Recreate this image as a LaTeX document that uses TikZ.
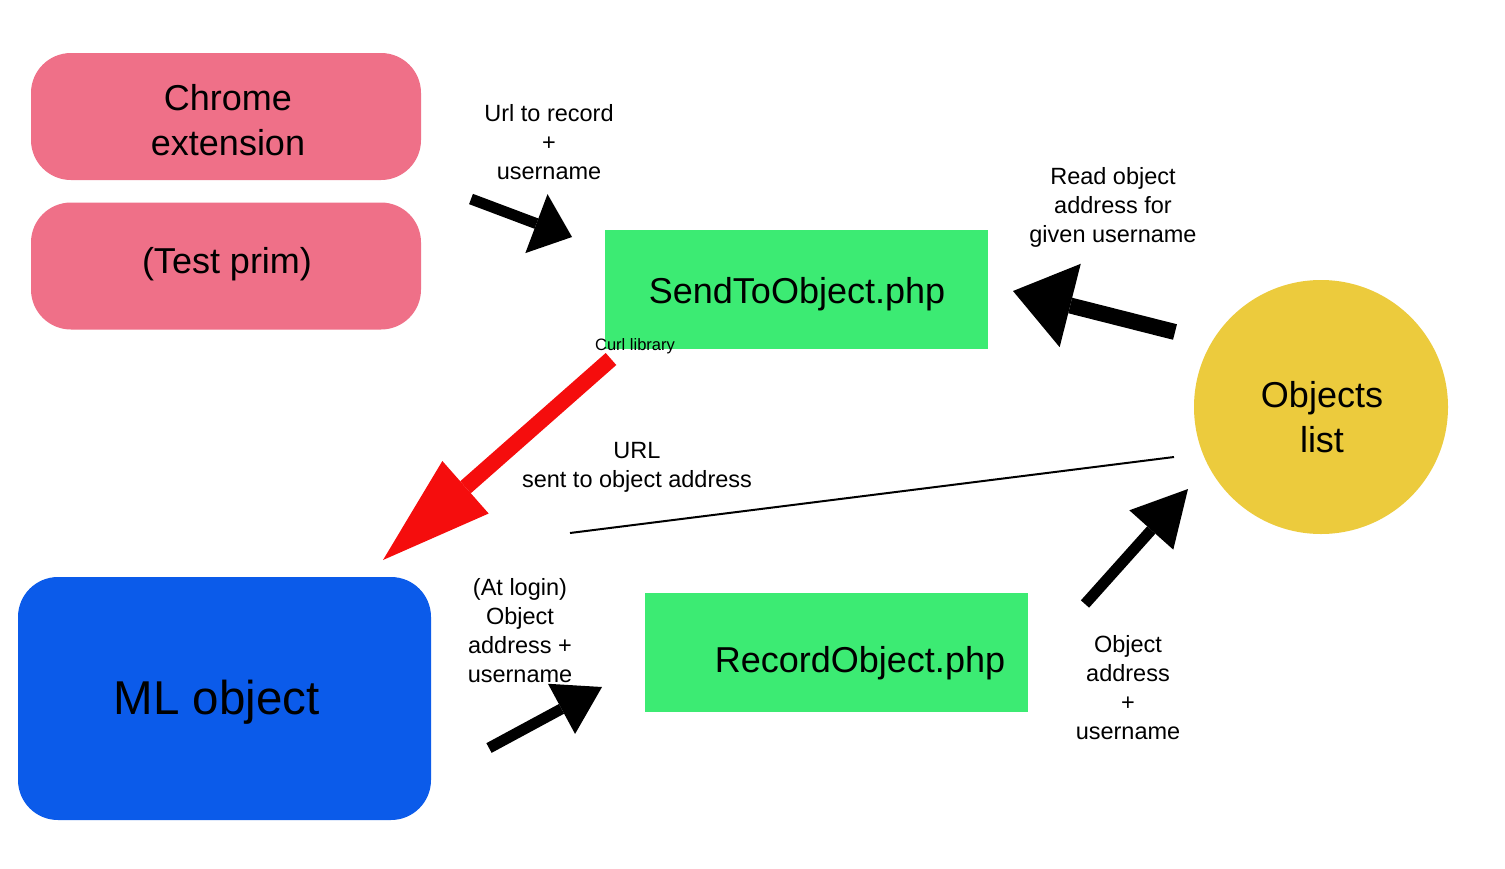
\documentclass[tikz,border=0pt]{standalone}
\usepackage{fontspec}
\setmainfont{Liberation Sans}
\usetikzlibrary{arrows.meta}
\definecolor{pinkfill}{HTML}{EF7088}
\definecolor{greenfill}{HTML}{3CEB73}
\definecolor{bluefill}{HTML}{0B5BEA}
\definecolor{yellowfill}{HTML}{ECCB3D}
\definecolor{redarrow}{HTML}{F50D0D}
\begin{document}
\begin{tikzpicture}[x=1pt,y=-1pt,
  pinkbox/.style={fill=pinkfill,rounded corners=40pt,inner sep=0pt,minimum width=390pt,minimum height=127pt},
  greenbox/.style={fill=greenfill,inner sep=0pt,minimum width=383pt,minimum height=119pt},
  bigtext/.style={font=\fontsize{36}{45}\selectfont,align=center,inner sep=0pt},
  lab/.style={font=\fontsize{23.5}{29}\selectfont,align=center,inner sep=0pt},
  fatarrow/.style={draw=black,line cap=butt}
]
\useasboundingbox (0,0) rectangle (1505,868);
\fill[white] (0,0) rectangle (1505,868);

% boxes
\node[pinkbox] (chrome) at (226,116.5) {};
\node[bigtext] (chrometxt) at (228,120.5) {Chrome\\extension};
\node[pinkbox] (test) at (226,266) {};
\node[bigtext] (testtxt) at (227,264) {(Test prim)};
\node[greenbox] (send) at (796.5,289.5) {};
\node[bigtext] (sendtxt) at (797,294) {SendToObject.php};
\node[greenbox] (record) at (836.5,652.5) {};
\node[bigtext] (recordtxt) at (860,663) {RecordObject.php};
\node[fill=bluefill,rounded corners=40pt,inner sep=0pt,minimum width=413pt,minimum height=243pt] (ml) at (224.5,698.5) {};
\node[font=\fontsize{47.5}{55}\selectfont,inner sep=0pt] (mltxt) at (216.5,702) {ML object};
\node[circle,fill=yellowfill,inner sep=0pt,minimum size=254pt] (objects) at (1321,407) {};
\node[bigtext] (objtxt) at (1322,417.5) {Objects\\list};

% labels
\node[lab] (l1) at (549,142.5) {Url to record\\+\\username};
\node[lab] (l2) at (1113,207) {Read object\\address for\\given username};
\node[font=\fontsize{16.5}{20}\selectfont,inner sep=0pt] (l3) at (635,346) {Curl library};
\node[lab] (l4) at (637,467.5) {URL\\sent to object address};
\node[lab] (l5) at (520,631) {(At login)\\Object\\address +\\username};
\node[lab] (l6) at (1128,688) {Object\\address\\+\\username};

% arrow end points
\coordinate (a1s) at (471,199); \coordinate (a1e) at (572,237);
\coordinate (a2s) at (1175,332); \coordinate (a2e) at (1013,291);
\coordinate (a3s) at (611,359); \coordinate (a3e) at (383,560);
\coordinate (a4s) at (489,748); \coordinate (a4e) at (602,687);
\coordinate (a5s) at (1085,604); \coordinate (a5e) at (1188,489);
\coordinate (ls) at (570,533); \coordinate (le) at (1174,457);

\draw[fatarrow,line width=11pt,-{Triangle[length=38pt,width=63pt,line width=0pt]}] (a1s) -- (a1e);
\draw[fatarrow,line width=16pt,-{Triangle[length=59pt,width=86pt,line width=0pt]}] (a2s) -- (a2e);
\draw[fatarrow,draw=redarrow,fill=redarrow,line width=16pt,-{Triangle[length=110pt,width=70pt,line width=0pt]}] (a3s) -- (a3e);
\draw[fatarrow,line width=11pt,-{Triangle[length=46pt,width=57pt,line width=0pt]}] (a4s) -- (a4e);
\draw[fatarrow,line width=11pt,-{Triangle[length=55pt,width=59pt,line width=0pt]}] (a5s) -- (a5e);
\draw[line width=2pt] (ls) -- (le);
\end{tikzpicture}
\end{document}
